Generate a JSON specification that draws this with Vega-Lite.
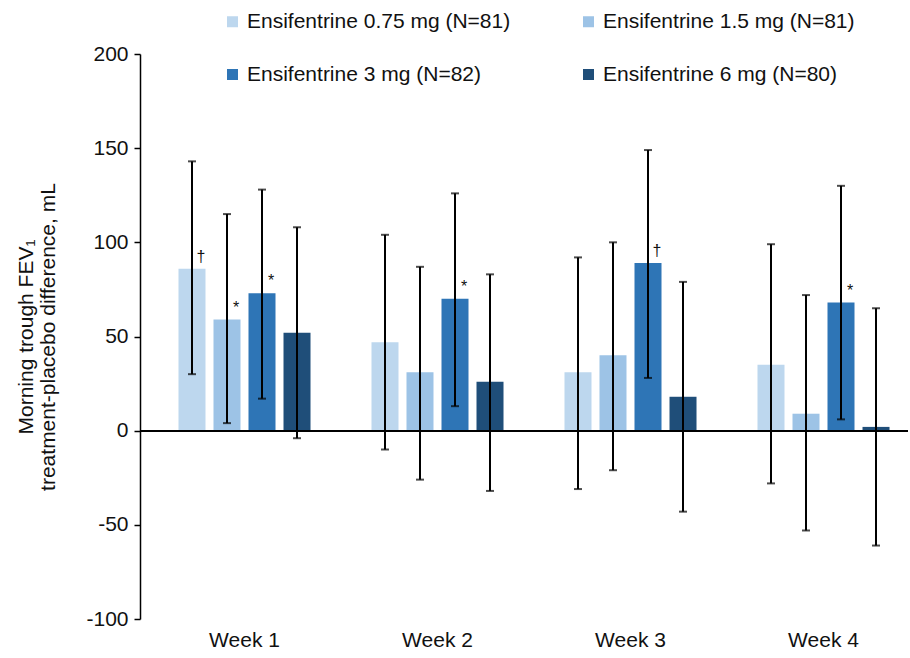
{
  "$schema": "https://vega.github.io/schema/vega-lite/v6.json",
  "width": 768,
  "height": 565,
  "autosize": {"type": "none"},
  "padding": {"left": 140, "top": 54, "right": 2, "bottom": 39},
  "background": "white",
  "config": {
    "font": "Liberation Sans",
    "view": {"stroke": null}
  },
  "data": {
    "values": [
      {"week": "Week 1", "dose": "Ensifentrine 0.75 mg (N=81)", "value": 86, "lo": 30, "hi": 143, "sig": "†"},
      {"week": "Week 1", "dose": "Ensifentrine 1.5 mg (N=81)", "value": 59, "lo": 4, "hi": 115, "sig": "*"},
      {"week": "Week 1", "dose": "Ensifentrine 3 mg (N=82)", "value": 73, "lo": 17, "hi": 128, "sig": "*"},
      {"week": "Week 1", "dose": "Ensifentrine 6 mg (N=80)", "value": 52, "lo": -4, "hi": 108, "sig": ""},
      {"week": "Week 2", "dose": "Ensifentrine 0.75 mg (N=81)", "value": 47, "lo": -10, "hi": 104, "sig": ""},
      {"week": "Week 2", "dose": "Ensifentrine 1.5 mg (N=81)", "value": 31, "lo": -26, "hi": 87, "sig": ""},
      {"week": "Week 2", "dose": "Ensifentrine 3 mg (N=82)", "value": 70, "lo": 13, "hi": 126, "sig": "*"},
      {"week": "Week 2", "dose": "Ensifentrine 6 mg (N=80)", "value": 26, "lo": -32, "hi": 83, "sig": ""},
      {"week": "Week 3", "dose": "Ensifentrine 0.75 mg (N=81)", "value": 31, "lo": -31, "hi": 92, "sig": ""},
      {"week": "Week 3", "dose": "Ensifentrine 1.5 mg (N=81)", "value": 40, "lo": -21, "hi": 100, "sig": ""},
      {"week": "Week 3", "dose": "Ensifentrine 3 mg (N=82)", "value": 89, "lo": 28, "hi": 149, "sig": "†"},
      {"week": "Week 3", "dose": "Ensifentrine 6 mg (N=80)", "value": 18, "lo": -43, "hi": 79, "sig": ""},
      {"week": "Week 4", "dose": "Ensifentrine 0.75 mg (N=81)", "value": 35, "lo": -28, "hi": 99, "sig": ""},
      {"week": "Week 4", "dose": "Ensifentrine 1.5 mg (N=81)", "value": 9, "lo": -53, "hi": 72, "sig": ""},
      {"week": "Week 4", "dose": "Ensifentrine 3 mg (N=82)", "value": 68, "lo": 6, "hi": 130, "sig": "*"},
      {"week": "Week 4", "dose": "Ensifentrine 6 mg (N=80)", "value": 2, "lo": -61, "hi": 65, "sig": ""}
    ]
  },
  "encoding": {
    "x": {
      "field": "week", "type": "nominal",
      "scale": {"paddingInner": 0, "paddingOuter": 0, "range": [8, 780]},
      "axis": {"title": null, "labelAngle": 0, "domain": false, "ticks": false, "labelFontSize": 21, "labelColor": "#111", "labelPadding": 10}
    },
    "xOffset": {
      "field": "dose", "type": "nominal",
      "sort": ["Ensifentrine 0.75 mg (N=81)", "Ensifentrine 1.5 mg (N=81)", "Ensifentrine 3 mg (N=82)", "Ensifentrine 6 mg (N=80)"],
      "scale": {"paddingInner": 0.2286, "paddingOuter": 0.871, "align": 0.5}
    }
  },
  "layer": [
    {
      "mark": {"type": "bar"},
      "encoding": {
        "y": {
          "field": "value", "type": "quantitative",
          "scale": {"domain": [-100, 200], "nice": false},
          "axis": {
            "values": [-100, -50, 0, 50, 100, 150, 200],
            "labelExpr": "toString(datum.value)",
            "grid": false, "domainColor": "#000", "domainWidth": 1.5,
            "tickColor": "#000", "tickWidth": 1.5, "tickSize": 6,
            "labelFontSize": 21, "labelColor": "#111", "labelPadding": 6,
            "title": ["Morning trough FEV₁", "treatment-placebo difference, mL"],
            "titleFontSize": 21, "titleFontWeight": "normal", "titleColor": "#111",
            "titlePadding": 27, "titleLineHeight": 22
          }
        },
        "color": {
          "field": "dose", "type": "nominal",
          "sort": ["Ensifentrine 0.75 mg (N=81)", "Ensifentrine 1.5 mg (N=81)", "Ensifentrine 3 mg (N=82)", "Ensifentrine 6 mg (N=80)"],
          "scale": {"range": ["#BDD7EE", "#9DC3E6", "#2E75B6", "#1F4E79"]},
          "legend": {
            "title": null, "orient": "none", "legendX": 82, "legendY": -43,
            "direction": "horizontal", "columns": 2, "columnPadding": 67, "rowPadding": 31,
            "symbolType": "square", "symbolSize": 121, "symbolStrokeWidth": 0,
            "labelFontSize": 21, "labelColor": "#111", "labelOffset": 4, "labelLimit": 400
          }
        }
      }
    },
    {
      "mark": {"type": "rule", "color": "#000", "strokeWidth": 2},
      "encoding": {
        "y": {"field": "lo", "type": "quantitative"},
        "y2": {"field": "hi"}
      }
    },
    {
      "mark": {"type": "tick", "color": "#000", "thickness": 2, "size": 8},
      "encoding": {"y": {"field": "lo", "type": "quantitative"}}
    },
    {
      "mark": {"type": "tick", "color": "#000", "thickness": 2, "size": 8},
      "encoding": {"y": {"field": "hi", "type": "quantitative"}}
    },
    {
      "mark": {"type": "text", "fontSize": 16, "dx": 9, "dy": -4, "baseline": "bottom", "color": "#111"},
      "encoding": {
        "y": {"field": "value", "type": "quantitative"},
        "text": {"field": "sig"}
      }
    },
    {
      "mark": {"type": "rule", "color": "#000", "strokeWidth": 1.5},
      "encoding": {"y": {"datum": 0}, "x": null, "xOffset": null}
    }
  ]
}
